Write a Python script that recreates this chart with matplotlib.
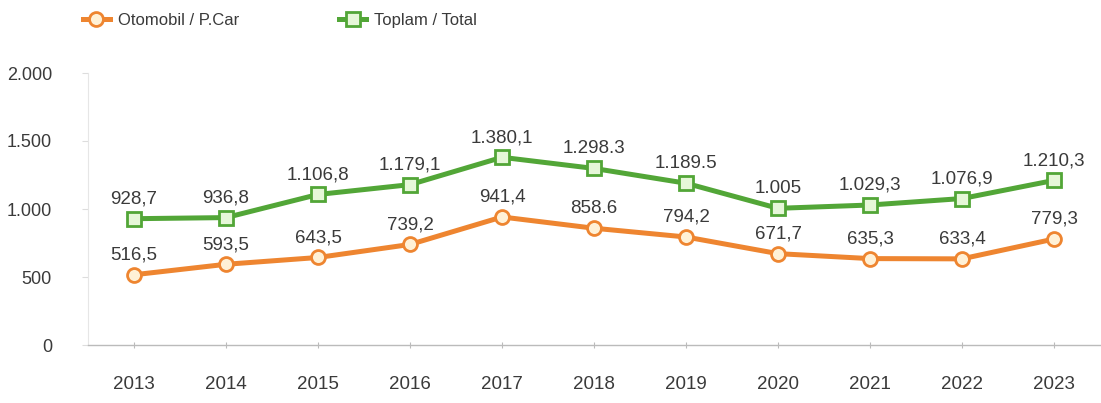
import matplotlib
matplotlib.use("Agg")
import matplotlib.pyplot as plt
from matplotlib.lines import Line2D

years = [2013, 2014, 2015, 2016, 2017, 2018, 2019, 2020, 2021, 2022, 2023]
car = [516.5, 593.5, 643.5, 739.2, 941.4, 858.6, 794.2, 671.7, 635.3, 633.4, 779.3]
total = [928.7, 936.8, 1106.8, 1179.1, 1380.1, 1298.3, 1189.5, 1005.0, 1029.3, 1076.9, 1210.3]
car_labels = ["516,5", "593,5", "643,5", "739,2", "941,4", "858.6", "794,2", "671,7", "635,3", "633,4", "779,3"]
total_labels = ["928,7", "936,8", "1.106,8", "1.179,1", "1.380,1", "1.298.3", "1.189.5", "1.005", "1.029,3", "1.076,9", "1.210,3"]
yticks = [0, 500, 1000, 1500, 2000]
ytick_labels = ["0", "500", "1.000", "1.500", "2.000"]

plt.rcParams['font.family'] = ['Liberation Sans', 'DejaVu Sans']
fig = plt.figure(figsize=(11.01, 4.03), dpi=100)
ax = fig.add_axes([88/1101, 1 - 345/403, 1012/1101, (345-73)/403])

orange = "#EE8530"
green = "#52A637"
txt = "#3a3a3a"

ax.plot(years, car, color=orange, lw=3.6, marker="o", ms=10, mfc="#FFF1D6", mec=orange, mew=2, zorder=3)
ax.plot(years, total, color=green, lw=3.6, marker="s", ms=10, mfc="#E6F7D8", mec=green, mew=2, zorder=3)

for x, y, s in zip(years, car, car_labels):
    ax.annotate(s, (x, y), xytext=(0, 8), textcoords="offset points", ha="center", va="bottom",
                fontsize=13.5, color=txt)
for x, y, s in zip(years, total, total_labels):
    ax.annotate(s, (x, y), xytext=(0, 8), textcoords="offset points", ha="center", va="bottom",
                fontsize=13.5, color=txt)

ax.set_xlim(2012.5, 2023.5)
ax.set_ylim(0, 2000)
ax.set_xticks(years)
ax.set_xticklabels([str(y) for y in years], fontsize=13.5, color=txt)
ax.set_yticks(yticks)
ax.set_yticklabels(ytick_labels, fontsize=13, color=txt)
ax.tick_params(axis="x", length=5, width=0.8, color="#bbbbbb", direction="inout", pad=20)
ax.tick_params(axis="y", length=4, width=0.8, color="#dddddd", pad=22)
for s in ["top", "right"]:
    ax.spines[s].set_visible(False)
ax.spines["left"].set_color("#e6e6e6")
ax.spines["bottom"].set_color("#bbbbbb")
ax.spines["bottom"].set_linewidth(1.0)

handles = [
    Line2D([], [], color=orange, lw=3.6, marker="o", ms=10, mfc="#FFF1D6", mec=orange, mew=2),
    Line2D([], [], color=green, lw=3.6, marker="s", ms=10, mfc="#E6F7D8", mec=green, mew=2),
]
fig.legend(handles, ["Otomobil / P.Car", "Toplam / Total"], loc="upper left",
           bbox_to_anchor=(68/1101, 1.005), ncol=2, frameon=False, fontsize=12,
           handlelength=1.6, handletextpad=0.5, columnspacing=6.0, labelcolor=txt)

fig.savefig("out.png", dpi=100)
